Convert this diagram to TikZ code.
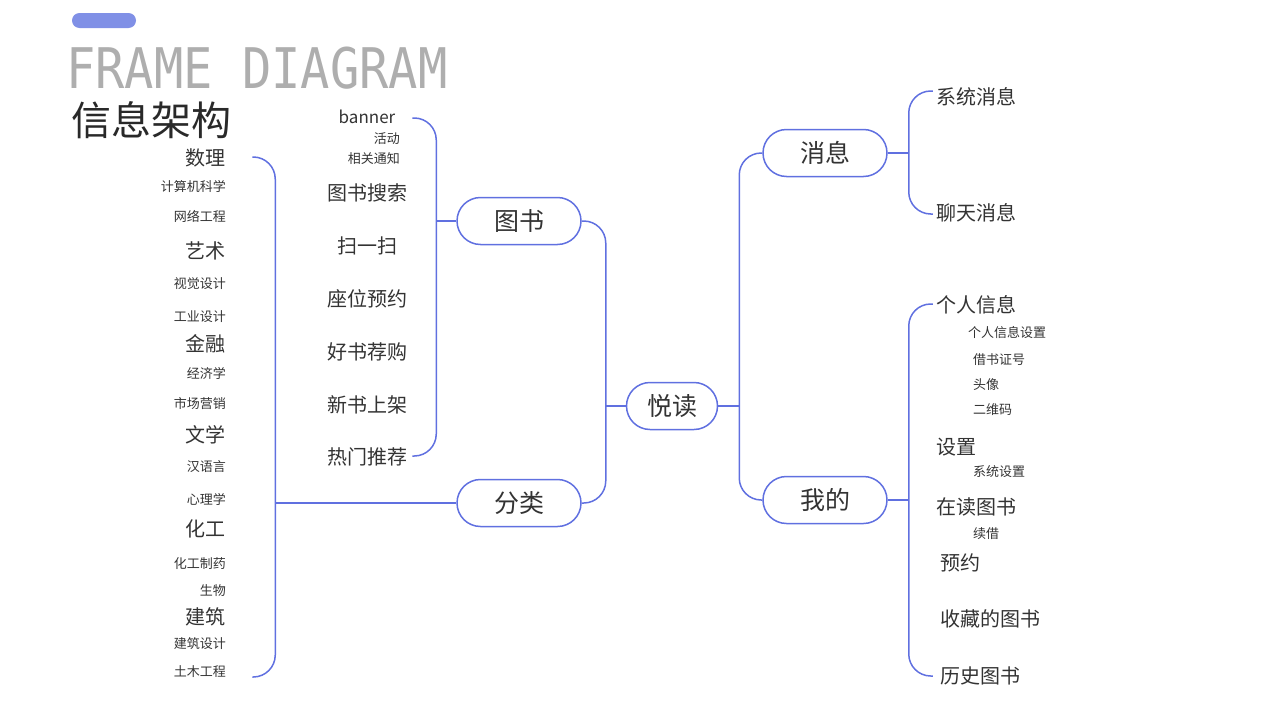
\documentclass[tikz,border=0pt]{standalone}
\usepackage{fontspec}
\usetikzlibrary{calc,positioning,shapes.misc}
\newfontfamily\cjk{Noto Sans CJK SC}
\newfontfamily\titlemono{DejaVu Sans Mono}
\definecolor{linkblue}{RGB}{96,112,224}
\definecolor{pillblue}{RGB}{128,144,230}
\definecolor{textdark}{RGB}{51,51,51}
\definecolor{titlegray}{RGB}{174,174,174}

\begin{document}
\begin{tikzpicture}[x=1pt,y=-1pt,
    link/.style={draw=linkblue, line width=1.5pt, rounded corners=22pt},
    pill/.style={rounded rectangle, draw=linkblue, line width=1.5pt, minimum width=124pt, minimum height=47pt, inner sep=0pt, text=textdark, font=\cjk\fontsize{25}{30}\selectfont},
    big/.style={inner sep=0pt, text=textdark, font=\cjk\fontsize{20}{24}\selectfont},
    small/.style={inner sep=0pt, text=textdark, font=\cjk\fontsize{13}{16}\selectfont}]
    \useasboundingbox (0,0) rectangle (1280,720);

    % Title block
    \fill[pillblue, rounded corners=7.5pt] (72,13) rectangle (136,28);
    \node[anchor=base west, inner sep=0pt, text=titlegray, font=\titlemono\fontsize{56}{60}\selectfont] (frame) at (66,88) {\scalebox{0.87}[1]{FRAME DIAGRAM}};
    \node[anchor=west, inner sep=0pt, text=textdark!80!black, font=\cjk\fontsize{40}{48}\selectfont] (xxjg) at (71,120) {信息架构};

    % Main nodes
    \node[pill, minimum width=91pt] (yuedu) at (672,406) {悦读};
    \node[pill] (tushu) at (519,221) {图书};
    \node[pill] (fenlei) at (519,503) {分类};
    \node[pill] (xiaoxi) at (825,153) {消息};
    \node[pill] (wode) at (825,500) {我的};

    % Left column: categories
    \foreach \n/\y/\t in {shuli/158/数理, yishu/251/艺术, jinrong/344/金融, wenxue/435/文学, huagong/529/化工, jianzhu/617/建筑}
        \node[big, anchor=east] (\n) at (226,\y) {\t};
    \foreach \n/\y/\t in {jsj/187/计算机科学, wlgc/216/网络工程, sjsj/284/视觉设计, gysj/317/工业设计, jjx/373/经济学, scyx/404/市场营销, hyy/467/汉语言, xlx/499/心理学, hgzy/564/化工制药, sw/591/生物, jzsj/644/建筑设计, tmgc/672/土木工程}
        \node[small, anchor=east] (\n) at (226,\y) {\t};

    % Middle column: book functions
    \node[big, font=\cjk\fontsize{17}{20}\selectfont] (banner) at (367,117) {banner};
    \node[small, anchor=east] (hd) at (400,139) {活动};
    \node[small, anchor=east] (xgtz) at (400,159) {相关通知};
    \foreach \n/\y/\t in {tsss/193/图书搜索, sys/246/扫一扫, zwyy/299/座位预约, hsjg/352/好书荐购, xssj/405/新书上架, rmtj/457/热门推荐}
        \node[big] (\n) at (367,\y) {\t};

    % Right column: messages
    \node[big, anchor=west] (xtxx) at (936,97) {系统消息};
    \node[big, anchor=west] (ltxx) at (936,213) {聊天消息};

    % Right column: mine
    \node[big, anchor=west] (grxx) at (936,305) {个人信息};
    \node[small, anchor=west] (grxxsz) at (968,333) {个人信息设置};
    \node[small, anchor=west] (jszh) at (973,360) {借书证号};
    \node[small, anchor=west] (tx) at (973,385) {头像};
    \node[small, anchor=west] (ewm) at (973,410) {二维码};
    \node[big, anchor=west] (sz) at (936,447) {设置};
    \node[small, anchor=west] (xtsz) at (973,472) {系统设置};
    \node[big, anchor=west] (zdts) at (936,507) {在读图书};
    \node[small, anchor=west] (xj) at (973,534) {续借};
    \node[big, anchor=west] (yy) at (940,563) {预约};
    \node[big, anchor=west] (scts) at (940,619) {收藏的图书};
    \node[big, anchor=west] (lsts) at (940,676) {历史图书};

    % Centre brackets
    \draw[link] (yuedu.west) -- ++(-20,0) coordinate (lbar);
    \draw[link] (tushu.east) -| (lbar) |- (fenlei.east);
    \draw[link] (yuedu.east) -- ++(21,0) coordinate (rbar);
    \draw[link] (xiaoxi.west) -| (rbar) |- (wode.west);

    % Branch brackets
    \draw[link] (tushu.west) -- ++(-20,0) coordinate (tsbar);
    \draw[link] ($(tsbar |- banner)+(-24,1)$) -| (tsbar) |- ($(tsbar |- rmtj)+(-24,-1)$);
    \draw[link] (fenlei.west) -- ++(-181,0) coordinate (flbar);
    \draw[link] ($(flbar |- shuli)+(-23,-1)$) -| (flbar) |- ($(flbar |- tmgc)+(-23,5)$);
    \draw[link] (xiaoxi.east) -- ++(21,0) coordinate (xxbar);
    \draw[link] ($(xxbar |- xtxx)+(24,-6)$) -| (xxbar) |- ($(xxbar |- ltxx)+(24,1)$);
    \draw[link] (wode.east) -- ++(21,0) coordinate (wdbar);
    \draw[link] ($(wdbar |- grxx)+(24,-1)$) -| (wdbar) |- ($(wdbar |- lsts)+(24,0)$);
\end{tikzpicture}
\end{document}
